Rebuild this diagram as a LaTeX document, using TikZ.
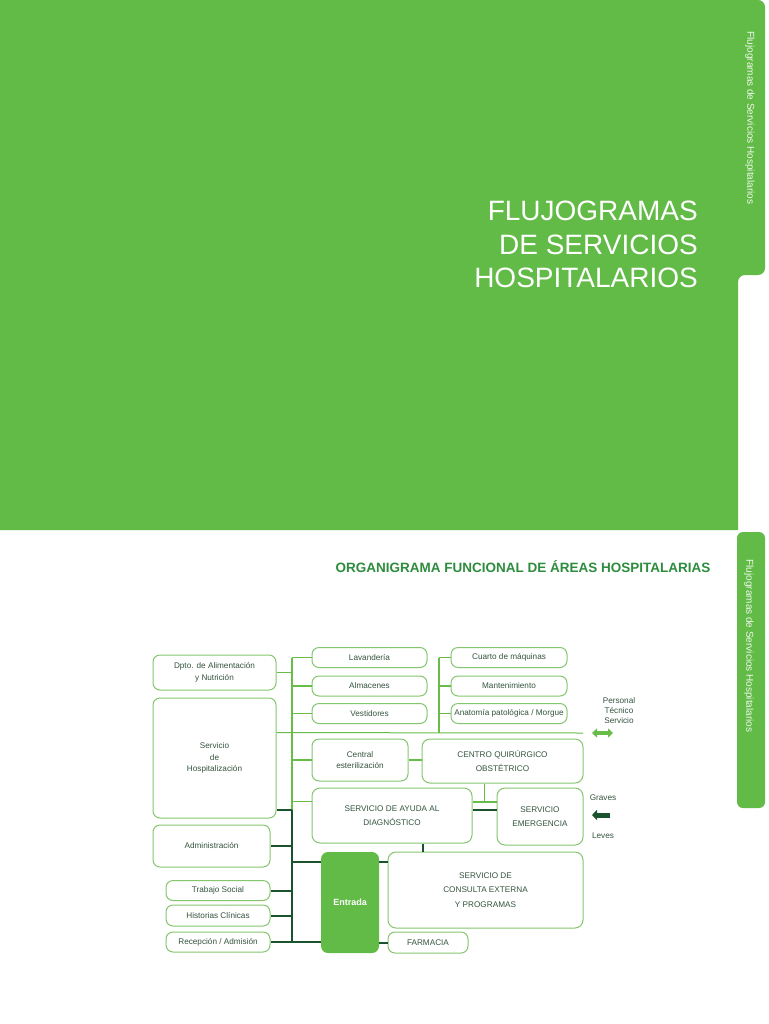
\documentclass[tikz,border=0pt]{standalone}
\usepackage{fontspec}
\setmainfont{Liberation Sans}
\usepackage{tikz}
\usetikzlibrary{positioning,arrows.meta,calc}
\definecolor{leaf}{RGB}{98,187,70}
\definecolor{boxline}{RGB}{132,198,110}
\definecolor{boxtext}{RGB}{52,84,62}
\definecolor{lightlink}{RGB}{104,188,72}
\definecolor{darklink}{RGB}{26,84,46}
\definecolor{headgreen}{RGB}{46,140,62}
\tikzset{
  box/.style={draw=boxline, fill=white, rounded corners=7pt, align=center,
    inner sep=1pt, font=\fontsize{8.2}{11.5}\selectfont, text=boxtext, line width=1pt},
  bigbox/.style={box, rounded corners=8pt, font=\fontsize{8.2}{14.5}\selectfont},
  entrybox/.style={fill=leaf, rounded corners=7pt, align=center, inner sep=1pt,
    font=\bfseries\fontsize{9}{10}\selectfont, text=white},
  lline/.style={draw=lightlink, line width=1.7pt},
  tline/.style={draw=lightlink, line width=1pt},
  dline/.style={draw=darklink, line width=2pt},
  tabtext/.style={rotate=-90, font=\fontsize{10}{12}\selectfont, text=white!90!leaf},
  legend/.style={font=\fontsize{8.2}{10}\selectfont, text=boxtext, align=center, inner sep=0pt},
}
\begin{document}
\begin{tikzpicture}[x=1pt,y=-1pt]
  \useasboundingbox (0,0) rectangle (768,1024);
  \fill[white] (0,0) rectangle (768,1024);
  \fill[leaf] (0,530) -- (0,0) [rounded corners=7pt] -- (765,0) -- (765,275) -- (738,275)
    [sharp corners] -- (738,530) -- cycle;
  \fill[leaf, rounded corners=6pt] (737,532) rectangle (765,808);
  \node[tabtext] (tab1) at (750,118) {Flujogramas de Servicios Hospitalarios};
  \node[tabtext] (tab2) at (749,646) {Flujogramas de Servicios Hospitalarios};
  \node[font=\fontsize{28}{33.5}\selectfont, text=white, align=right, anchor=north east,
    inner sep=0pt] (cover) at (698,201) {FLUJOGRAMAS\\DE SERVICIOS\\HOSPITALARIOS};
  \node[font=\bfseries\fontsize{13.5}{16}\selectfont, text=headgreen] (title) at (523,567)
    {ORGANIGRAMA FUNCIONAL DE ÁREAS HOSPITALARIAS};

  % left column
  \node[box, minimum width=123, minimum height=35] (alim) at (214.5,672.5)
    {Dpto. de Alimentación\\y Nutrición};
  \node[box, minimum width=123, minimum height=120] (hosp) at (214.5,758)
    {Servicio\\de\\Hospitalización};
  \node[box, minimum width=117, minimum height=42] (admin) at (211.5,846) {Administración};
  \node[box, minimum width=104, minimum height=20] (trab) at (218,890.5) {Trabajo Social};
  \node[box, minimum width=104, minimum height=21] (hist) at (218,915.5) {Historias Clínicas};
  \node[box, minimum width=104, minimum height=20] (recep) at (218,942) {Recepción / Admisión};

  % upper rows
  \node[box, minimum width=115, minimum height=20] (lav) at (369.5,657.5) {Lavandería};
  \node[box, minimum width=115, minimum height=20] (alm) at (369.5,686) {Almacenes};
  \node[box, minimum width=115, minimum height=20] (vest) at (369.5,713.5) {Vestidores};
  \node[box, minimum width=116, minimum height=20] (maq) at (509,657.5) {Cuarto de máquinas};
  \node[box, minimum width=116, minimum height=20] (mant) at (509,686) {Mantenimiento};
  \node[box, minimum width=116, minimum height=20] (morg) at (509,713.5)
    {Anatomía patológica / Morgue};

  % services
  \node[box, minimum width=96, minimum height=42] (cest) at (360,760)
    {Central\\esterilización};
  \node[bigbox, minimum width=161, minimum height=44] (cqo) at (502.5,761)
    {CENTRO QUIRÚRGICO\\OBSTÉTRICO};
  \node[bigbox, minimum width=160, minimum height=55] (ayuda) at (392,815.5)
    {SERVICIO DE AYUDA AL\\DIAGNÓSTICO};
  \node[bigbox, minimum width=86, minimum height=57] (emer) at (540,816.5)
    {SERVICIO\\EMERGENCIA};
  \node[entrybox, minimum width=58, minimum height=101] (entr) at (350,902.5) {Entrada};
  \node[bigbox, minimum width=195, minimum height=76] (cons) at (485.5,890)
    {SERVICIO DE\\CONSULTA EXTERNA\\Y PROGRAMAS};
  \node[box, minimum width=80, minimum height=21] (farm) at (428,942.5) {FARMACIA};

  % trunks
  \coordinate (tA) at (292,657.5);
  \coordinate (tB) at (292,810);
  \coordinate (tC) at (292,942);
  \coordinate (rA) at (439,657.5);
  \coordinate (rB) at (439,733);
  \coordinate (hA) at ($(hosp.north east)!0.29!(hosp.south east)$);
  \coordinate (pts) at (583,733);
  \coordinate (aA) at ($(ayuda.north west)!0.25!(ayuda.south west)$);
  \coordinate (cq) at (484,802);
  \coordinate (eA) at ($(entr.north west)!0.1!(entr.south west)$);
  \draw[lline] (tA) -- (tB);
  \draw[dline] (tB) -- (tC);
  \draw[lline] (rA) -- (rB);
  \draw[lline] (lav.west) -- (lav.west -| tA);
  \draw[lline] (alm.west) -- (alm.west -| tA);
  \draw[tline] (vest.west) -- (vest.west -| tA);
  \draw[lline] (cest.west) -- (cest.west -| tA);
  \draw[lline] (aA) -- (aA -| tA);
  \draw[tline] (alim.east) -- (alim.east -| tA);
  \draw[tline] (hA) -- (pts);
  \draw[lline] (maq.west) -- (maq.west -| rA);
  \draw[lline] (mant.west) -- (mant.west -| rA);
  \draw[tline] (morg.west) -- (morg.west -| rA);
  \draw[lline] (cest.east) -- (cest.east -| cqo.west);
  \draw[tline] (cq |- cqo.south) -- (cq);
  \draw[lline] (cq -| ayuda.east) -- (cq -| emer.west);
  \draw[dline] (tB -| ayuda.east) -- (tB -| emer.west);
  \draw[dline] ([xshift=31pt]ayuda.south) -- ([xshift=31pt]ayuda.south |- cons.north);
  \draw[dline] (tB -| hosp.east) -- (tB);
  \draw[dline] (admin.east) -- (admin.east -| tA);
  \draw[dline] (eA) -- (eA -| tA);
  \draw[dline] (trab.east) -- (trab.east -| tA);
  \draw[dline] (hist.east) -- (hist.east -| tA);
  \draw[dline] (recep.east) -- (recep.east -| entr.west);
  \draw[dline] (eA -| entr.east) -- (eA -| cons.west);
  \draw[dline] (farm.west) -- (farm.west -| entr.east);

  % legend
  \node[legend] (pers) at (619,711) {Personal\\Técnico\\Servicio};
  \coordinate (dblL) at (592,733);
  \coordinate (dblR) at (613,733);
  \draw[lightlink, line width=3.5pt, {Triangle[length=5pt,width=9pt]}-{Triangle[length=5pt,width=9pt]}]
    (dblL) -- (dblR);
  \node[legend] (grav) at (603,798) {Graves};
  \coordinate (emL) at (592,815);
  \coordinate (emR) at (610,815);
  \draw[darklink, line width=5pt, -{Triangle[length=5pt,width=10pt]}] (emR) -- (emL);
  \node[legend] (lev) at (603,836) {Leves};
\end{tikzpicture}
\end{document}
